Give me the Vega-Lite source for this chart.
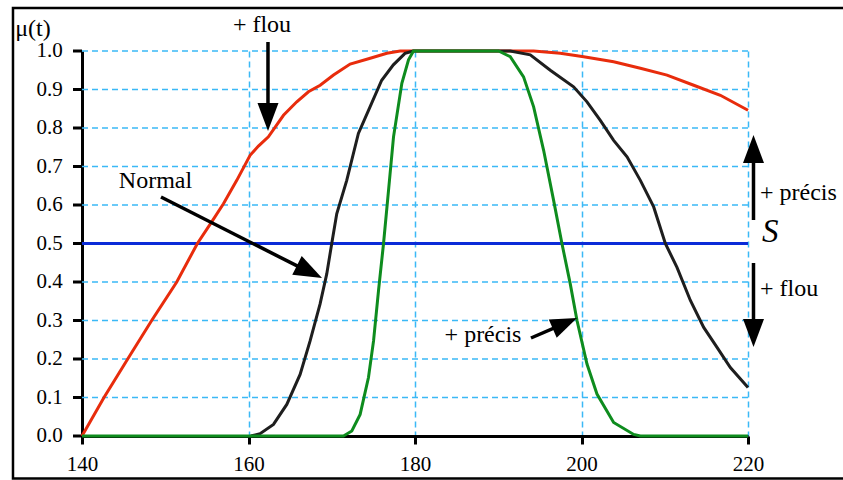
{
  "$schema": "https://vega.github.io/schema/vega-lite/v6.json",
  "width": 666,
  "height": 385,
  "autosize": {"type": "none"},
  "padding": {"left": 82, "top": 51, "right": 95, "bottom": 44},
  "background": "white",
  "config": {"view": {"stroke": null}},
  "datasets": {
    "yticks": [{"v": 0}, {"v": 0.1}, {"v": 0.2}, {"v": 0.3}, {"v": 0.4}, {"v": 0.5}, {"v": 0.6}, {"v": 0.7}, {"v": 0.8}, {"v": 0.9}, {"v": 1}],
    "curves": [
      {"s": "rouge", "t": 140, "mu": 0},
      {"s": "rouge", "t": 142.64, "mu": 0.1},
      {"s": "rouge", "t": 145.49, "mu": 0.2},
      {"s": "rouge", "t": 148.37, "mu": 0.3},
      {"s": "rouge", "t": 151.38, "mu": 0.4},
      {"s": "rouge", "t": 153.86, "mu": 0.5},
      {"s": "rouge", "t": 155.58, "mu": 0.556},
      {"s": "rouge", "t": 156.99, "mu": 0.603},
      {"s": "rouge", "t": 158.59, "mu": 0.664},
      {"s": "rouge", "t": 160.19, "mu": 0.729},
      {"s": "rouge", "t": 161.19, "mu": 0.753},
      {"s": "rouge", "t": 162.39, "mu": 0.777},
      {"s": "rouge", "t": 164.2, "mu": 0.833},
      {"s": "rouge", "t": 165.8, "mu": 0.868},
      {"s": "rouge", "t": 167.2, "mu": 0.894},
      {"s": "rouge", "t": 168.61, "mu": 0.911},
      {"s": "rouge", "t": 170.21, "mu": 0.9375},
      {"s": "rouge", "t": 172.21, "mu": 0.966},
      {"s": "rouge", "t": 174.62, "mu": 0.981},
      {"s": "rouge", "t": 176.62, "mu": 0.994},
      {"s": "rouge", "t": 178.22, "mu": 1.0},
      {"s": "rouge", "t": 194.25, "mu": 1.0},
      {"s": "rouge", "t": 197.45, "mu": 0.994},
      {"s": "rouge", "t": 200.26, "mu": 0.985},
      {"s": "rouge", "t": 203.86, "mu": 0.972},
      {"s": "rouge", "t": 207.07, "mu": 0.955},
      {"s": "rouge", "t": 210.27, "mu": 0.9375},
      {"s": "rouge", "t": 213.48, "mu": 0.911},
      {"s": "rouge", "t": 216.68, "mu": 0.885},
      {"s": "rouge", "t": 220, "mu": 0.846},
      {"s": "noir", "t": 160.27, "mu": 0},
      {"s": "noir", "t": 161.39, "mu": 0.006},
      {"s": "noir", "t": 163.0, "mu": 0.03},
      {"s": "noir", "t": 164.6, "mu": 0.082},
      {"s": "noir", "t": 166.2, "mu": 0.16},
      {"s": "noir", "t": 167.4, "mu": 0.247},
      {"s": "noir", "t": 168.6, "mu": 0.343},
      {"s": "noir", "t": 169.4, "mu": 0.421},
      {"s": "noir", "t": 170.0, "mu": 0.5},
      {"s": "noir", "t": 170.6, "mu": 0.577},
      {"s": "noir", "t": 171.8, "mu": 0.664},
      {"s": "noir", "t": 173.2, "mu": 0.786},
      {"s": "noir", "t": 174.6, "mu": 0.855},
      {"s": "noir", "t": 176.0, "mu": 0.924},
      {"s": "noir", "t": 177.4, "mu": 0.964},
      {"s": "noir", "t": 178.8, "mu": 0.994},
      {"s": "noir", "t": 179.8, "mu": 1.0},
      {"s": "noir", "t": 191.44, "mu": 1.0},
      {"s": "noir", "t": 193.85, "mu": 0.99},
      {"s": "noir", "t": 196.25, "mu": 0.95},
      {"s": "noir", "t": 199.05, "mu": 0.907},
      {"s": "noir", "t": 200.66, "mu": 0.868},
      {"s": "noir", "t": 202.26, "mu": 0.82},
      {"s": "noir", "t": 203.86, "mu": 0.768},
      {"s": "noir", "t": 205.47, "mu": 0.725},
      {"s": "noir", "t": 207.07, "mu": 0.664},
      {"s": "noir", "t": 208.67, "mu": 0.595},
      {"s": "noir", "t": 210.07, "mu": 0.5},
      {"s": "noir", "t": 211.47, "mu": 0.438},
      {"s": "noir", "t": 213.08, "mu": 0.352},
      {"s": "noir", "t": 214.68, "mu": 0.282},
      {"s": "noir", "t": 216.28, "mu": 0.23},
      {"s": "noir", "t": 217.88, "mu": 0.178},
      {"s": "noir", "t": 220, "mu": 0.126},
      {"s": "vert", "t": 140, "mu": 0},
      {"s": "vert", "t": 171.41, "mu": 0},
      {"s": "vert", "t": 172.41, "mu": 0.013},
      {"s": "vert", "t": 173.41, "mu": 0.056},
      {"s": "vert", "t": 174.41, "mu": 0.152},
      {"s": "vert", "t": 175.02, "mu": 0.247},
      {"s": "vert", "t": 175.62, "mu": 0.378},
      {"s": "vert", "t": 176.22, "mu": 0.5},
      {"s": "vert", "t": 176.82, "mu": 0.638},
      {"s": "vert", "t": 177.42, "mu": 0.777},
      {"s": "vert", "t": 178.42, "mu": 0.916},
      {"s": "vert", "t": 179.22, "mu": 0.977},
      {"s": "vert", "t": 179.82, "mu": 1.0},
      {"s": "vert", "t": 190.04, "mu": 1.0},
      {"s": "vert", "t": 191.44, "mu": 0.985},
      {"s": "vert", "t": 193.04, "mu": 0.933},
      {"s": "vert", "t": 194.25, "mu": 0.855},
      {"s": "vert", "t": 195.45, "mu": 0.742},
      {"s": "vert", "t": 196.65, "mu": 0.612},
      {"s": "vert", "t": 197.65, "mu": 0.5},
      {"s": "vert", "t": 198.65, "mu": 0.395},
      {"s": "vert", "t": 199.46, "mu": 0.3},
      {"s": "vert", "t": 200.66, "mu": 0.187},
      {"s": "vert", "t": 201.86, "mu": 0.109},
      {"s": "vert", "t": 203.86, "mu": 0.035},
      {"s": "vert", "t": 206.27, "mu": 0.004},
      {"s": "vert", "t": 207.07, "mu": 0},
      {"s": "vert", "t": 220, "mu": 0}
    ],
    "seuil": [{"t": 140, "mu": 0.5}, {"t": 220, "mu": 0.5}],
    "labels": [
      {"txt": "μ(t)", "t": 134.11, "mu": 1.0571},
      {"txt": "+ flou", "t": 161.62, "mu": 1.0675},
      {"txt": "Normal", "t": 148.83, "mu": 0.6623},
      {"txt": "+ précis", "t": 188.17, "mu": 0.2623}
    ],
    "rlabels": [
      {"txt": "+ précis", "t": 221.44, "mu": 0.6312},
      {"txt": "+ flou", "t": 221.44, "mu": 0.3818}
    ],
    "shafts": [
      {"t": 162.34, "mu": 1.0234, "t2": 162.34, "mu2": 0.8286},
      {"t": 149.49, "mu": 0.6208, "t2": 167.21, "mu2": 0.4268},
      {"t": 193.93, "mu": 0.2545, "t2": 198.14, "mu2": 0.294},
      {"t": 220.66, "mu": 0.561, "t2": 220.66, "mu2": 0.7429},
      {"t": 220.66, "mu": 0.4494, "t2": 220.66, "mu2": 0.2675}
    ],
    "headsDown": [{"t": 162.34, "mu": 0.7922}, {"t": 220.66, "mu": 0.2312}],
    "headsUp": [{"t": 220.66, "mu": 0.7818}],
    "headNormal": [{"t": 168.83, "mu": 0.4104}],
    "headPrecis": [{"t": 199.46, "mu": 0.3065}],
    "frame": [{"t": 131.71, "t2": 232.5, "mu": -0.1104, "mu2": 1.1117}]
  },
  "layer": [
    {
      "data": {"name": "yticks"},
      "transform": [{"filter": "datum.v > 0"}],
      "mark": {"type": "rule", "color": "#3BB9F6", "strokeWidth": 1.5, "strokeDash": [6, 4]},
      "encoding": {
        "y": {"field": "v", "type": "quantitative",
          "scale": {"domain": [0, 1], "nice": false, "zero": false},
          "axis": {"title": null, "labels": false, "ticks": false, "grid": false,
            "domainColor": "black", "domainWidth": 3}}
      }
    },
    {
      "data": {"name": "seuil"},
      "mark": {"type": "line", "color": "#0B2BD8", "strokeWidth": 3},
      "encoding": {
        "x": {"field": "t", "type": "quantitative",
          "scale": {"domain": [140, 220], "nice": false, "zero": false},
          "axis": {"values": [140, 160, 180, 200, 220], "format": "d", "title": null,
            "tickSize": 8, "labelPadding": 9, "labelFlush": false, "labelOverlap": false,
            "labelFont": "Liberation Serif", "labelFontSize": 21, "labelColor": "black",
            "tickColor": "black", "tickWidth": 3, "domainColor": "black", "domainWidth": 3,
            "grid": true, "gridColor": "#3BB9F6", "gridDash": [6, 4], "gridWidth": 1.5, "gridOpacity": 1}},
        "y": {"field": "mu", "type": "quantitative"}
      }
    },
    {
      "data": {"name": "yticks"},
      "mark": {"type": "rule", "color": "black", "strokeWidth": 3},
      "encoding": {
        "x": {"datum": 138.92, "type": "quantitative"},
        "x2": {"datum": 140},
        "y": {"field": "v", "type": "quantitative"}
      }
    },
    {
      "data": {"name": "yticks"},
      "mark": {"type": "text", "font": "Liberation Serif", "fontSize": 21, "color": "black", "align": "right", "baseline": "middle"},
      "encoding": {
        "x": {"datum": 137.7, "type": "quantitative"},
        "y": {"field": "v", "type": "quantitative"},
        "text": {"field": "v", "type": "quantitative", "format": ".1f"}
      }
    },
    {
      "data": {"name": "curves"},
      "mark": {"type": "line", "strokeWidth": 3},
      "encoding": {
        "x": {"field": "t", "type": "quantitative"},
        "y": {"field": "mu", "type": "quantitative"},
        "color": {"field": "s", "type": "nominal", "legend": null,
          "scale": {"domain": ["rouge", "noir", "vert"], "range": ["#E82C0C", "#1E1E1E", "#0E8C1E"]}},
        "order": {"field": "t", "type": "quantitative"}
      }
    },
    {
      "data": {"name": "shafts"},
      "mark": {"type": "rule", "color": "black", "strokeWidth": 3.5},
      "encoding": {
        "x": {"field": "t", "type": "quantitative"},
        "y": {"field": "mu", "type": "quantitative"},
        "x2": {"field": "t2"}, "y2": {"field": "mu2"}
      }
    },
    {
      "data": {"name": "headsDown"},
      "mark": {"type": "point", "shape": "M0,0L-0.75,2L0.75,2Z", "filled": true, "size": 784, "color": "black", "opacity": 1, "angle": 180},
      "encoding": {"x": {"field": "t", "type": "quantitative"}, "y": {"field": "mu", "type": "quantitative"}}
    },
    {
      "data": {"name": "headsUp"},
      "mark": {"type": "point", "shape": "M0,0L-0.75,2L0.75,2Z", "filled": true, "size": 784, "color": "black", "opacity": 1, "angle": 0},
      "encoding": {"x": {"field": "t", "type": "quantitative"}, "y": {"field": "mu", "type": "quantitative"}}
    },
    {
      "data": {"name": "headNormal"},
      "mark": {"type": "point", "shape": "M0,0L-0.75,2L0.75,2Z", "filled": true, "size": 784, "color": "black", "opacity": 1, "angle": 116.7},
      "encoding": {"x": {"field": "t", "type": "quantitative"}, "y": {"field": "mu", "type": "quantitative"}}
    },
    {
      "data": {"name": "headPrecis"},
      "mark": {"type": "point", "shape": "M0,0L-0.75,2L0.75,2Z", "filled": true, "size": 700, "color": "black", "opacity": 1, "angle": 66.5},
      "encoding": {"x": {"field": "t", "type": "quantitative"}, "y": {"field": "mu", "type": "quantitative"}}
    },
    {
      "data": {"name": "labels"},
      "mark": {"type": "text", "font": "Liberation Serif", "fontSize": 24, "color": "black", "align": "center", "baseline": "middle"},
      "encoding": {"x": {"field": "t", "type": "quantitative"}, "y": {"field": "mu", "type": "quantitative"}, "text": {"field": "txt"}}
    },
    {
      "data": {"name": "rlabels"},
      "mark": {"type": "text", "font": "Liberation Serif", "fontSize": 24, "color": "black", "align": "left", "baseline": "middle"},
      "encoding": {"x": {"field": "t", "type": "quantitative"}, "y": {"field": "mu", "type": "quantitative"}, "text": {"field": "txt"}}
    },
    {
      "data": {"values": [{"txt": "S", "t": 221.68, "mu": 0.5299}]},
      "mark": {"type": "text", "font": "Liberation Serif", "fontSize": 33, "fontStyle": "italic", "color": "black", "align": "left", "baseline": "middle"},
      "encoding": {"x": {"field": "t", "type": "quantitative"}, "y": {"field": "mu", "type": "quantitative"}, "text": {"field": "txt"}}
    },
    {
      "data": {"name": "frame"},
      "mark": {"type": "rect", "fill": null, "stroke": "black", "strokeWidth": 2.5},
      "encoding": {
        "x": {"field": "t", "type": "quantitative"},
        "y": {"field": "mu", "type": "quantitative"},
        "x2": {"field": "t2"}, "y2": {"field": "mu2"}
      }
    }
  ]
}
